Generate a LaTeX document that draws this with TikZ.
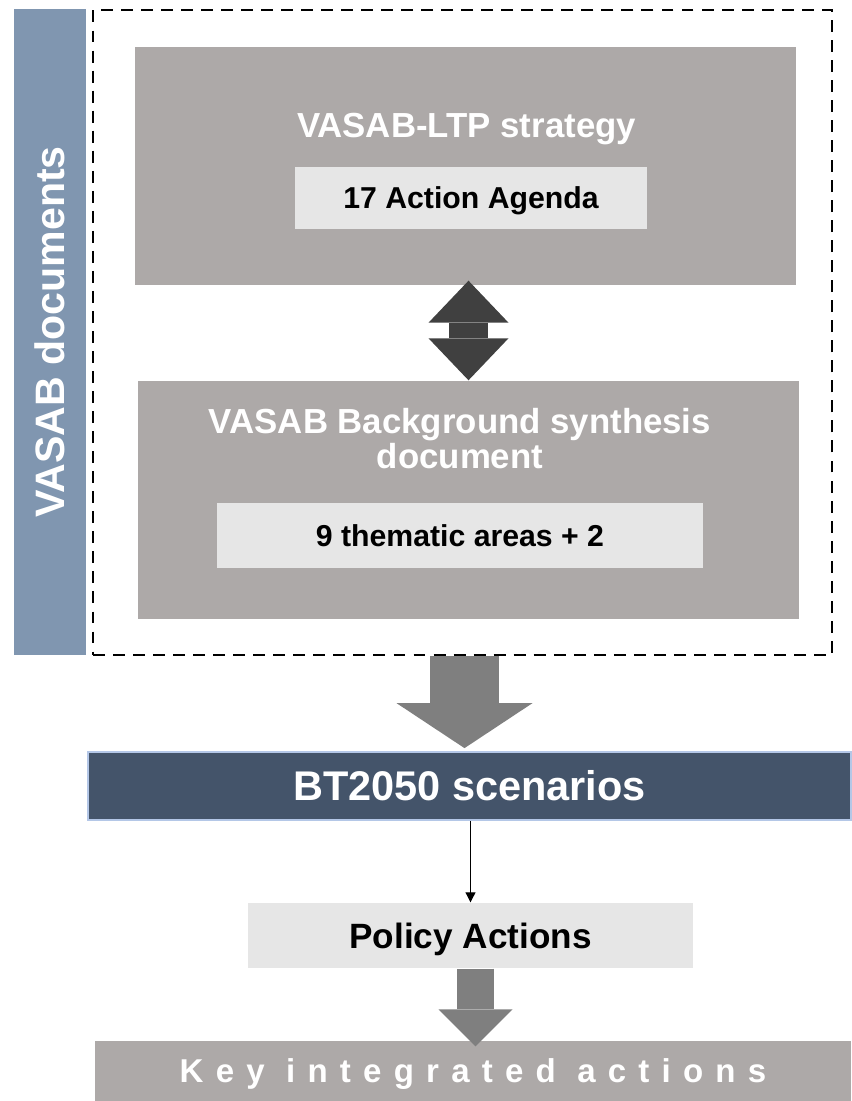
\documentclass[tikz,border=0pt]{standalone}
\usepackage{fontspec}
\setmainfont{Liberation Sans}
\usepackage{xcolor}
\usetikzlibrary{arrows.meta, positioning}

\definecolor{sideblue}{RGB}{128,150,176}
\definecolor{boxgray}{RGB}{173,169,168}
\definecolor{boxlight}{RGB}{230,230,230}
\definecolor{arrowdark}{RGB}{64,64,64}
\definecolor{arrowgray}{RGB}{127,127,127}
\definecolor{barblue}{RGB}{68,84,106}
\definecolor{barrim}{RGB}{180,199,231}

\begin{document}
\begin{tikzpicture}[
    outerbox/.style={fill=boxgray, inner sep=0pt},
    innerbox/.style={fill=boxlight, inner sep=0pt, text depth=0pt},
    titletext/.style={text=white, inner sep=0pt, font=\fontsize{9.9}{9.9}\selectfont\bfseries},
    boxtext/.style={font=\fontsize{8.6}{8.6}\selectfont\bfseries, text height=6.15pt},
    blockarrow/.style={line cap=butt}
]

\useasboundingbox (0,0) rectangle (8.51,-11.01);

% Side bar - rotated label
\node[
fill=sideblue,
rotate=90,
minimum width=6.46cm,
minimum height=0.72cm,
inner sep=0pt,
text=white,
text height=8.4pt,
text depth=0pt,
font=\fontsize{11.7}{11.7}\selectfont\bfseries
] (side) at (0.50,-3.32) {VASAB documents};

% Dashed frame round the two documents
\node[
draw,
dash pattern=on 3.4pt off 2.3pt,
line width=0.8pt,
minimum width=7.39cm,
minimum height=6.45cm,
inner sep=0pt
] (frame) at (4.625,-3.325) {};

% Strategy box
\node[outerbox, minimum width=6.61cm, minimum height=2.38cm] (ltp) at (4.655,-1.66) {};
\node[titletext, anchor=base] (ltptitle) at (4.665,-1.38) {VASAB-LTP strategy};
\node[innerbox, boxtext, minimum width=3.52cm, minimum height=0.62cm] (agenda) at (4.71,-1.98) {17 Action Agenda};

% Background document box
\node[outerbox, minimum width=6.61cm, minimum height=2.38cm] (bg) at (4.685,-5.00) {};
\node[titletext, align=center] (bgtitle) at (4.60,-4.387) {VASAB Background synthesis\\document};
\node[innerbox, boxtext, minimum width=4.86cm, minimum height=0.65cm] (themes) at (4.60,-5.355) {9 thematic areas + 2};

% Scenario bar
\node[
fill=barblue,
draw=barrim,
line width=0.5pt,
minimum width=7.63cm,
minimum height=0.68cm,
inner sep=0pt,
text=white,
text height=8.45pt,
text depth=0pt,
font=\fontsize{11.8}{11.8}\selectfont\bfseries
] (bt) at (4.695,-7.86) {BT2050 scenarios};

% Policy box
\node[
innerbox,
minimum width=4.45cm,
minimum height=0.65cm,
text height=7.16pt,
font=\fontsize{10}{10}\selectfont\bfseries
] (policy) at (4.705,-9.355) {Policy Actions};

% Bottom bar - spaced letters
\node[
outerbox,
minimum width=7.56cm,
minimum height=0.60cm,
text=white,
text height=6.73pt,
text depth=0pt,
font=\fontsize{9.4}{9.4}\selectfont\bfseries\addfontfeature{LetterSpace=37}
] (key) at (4.73,-10.71) {Key integrated actions};

% Arrows between the boxes
\draw[blockarrow, arrowdark, line width=0.39cm,
  {Triangle[length=0.42cm,width=0.80cm,line width=0pt]}-{Triangle[length=0.42cm,width=0.80cm,line width=0pt]}]
  ([yshift=0.05cm]ltp.south -| bg.north) -- (bg.north);

\draw[blockarrow, arrowgray, line width=0.69cm,
  -{Triangle[length=0.45cm,width=1.36cm,line width=0pt]}]
  ([xshift=0.02cm]frame.south) -- ([xshift=0.02cm, yshift=0.03cm]frame.south |- bt.north);

\draw[line width=0.3pt, -{Triangle[length=0.1cm,width=0.1cm]}]
  (bt.south -| policy.north) -- (policy.north);

\draw[blockarrow, arrowgray, line width=0.37cm,
  -{Triangle[length=0.37cm,width=0.74cm,line width=0pt]}]
  ([xshift=0.05cm]policy.south) -- ([xshift=0.05cm, yshift=-0.06cm]policy.south |- key.north);

\end{tikzpicture}
\end{document}
